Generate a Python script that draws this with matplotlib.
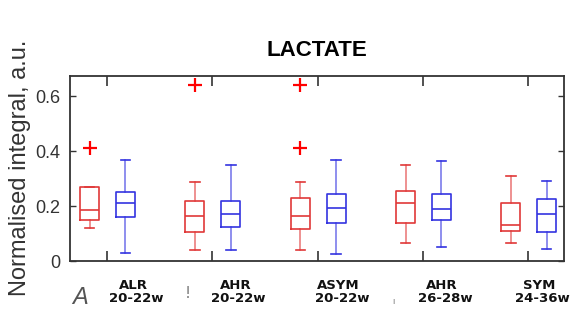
import matplotlib.pyplot as plt
import numpy as np

# group labels shown under the axis
groups = ["ALR\n20-22w", "AHR\n20-22w", "ASYM\n20-22w", "AHR\n26-28w", "SYM\n24-36w"]

# red series: whislo, q1, median, q3, whishi
red_lo = [0.121, 0.039, 0.039, 0.067, 0.067]
red_q1 = [0.149, 0.107, 0.115, 0.139, 0.108]
red_med = [0.185, 0.164, 0.164, 0.212, 0.131]
red_q3 = [0.269, 0.219, 0.228, 0.256, 0.210]
red_hi = [0.269, 0.287, 0.287, 0.349, 0.309]
red_fliers = [[0.41], [0.64], [0.64, 0.41], [], []]

# blue series
blue_lo = [0.028, 0.039, 0.027, 0.051, 0.045]
blue_q1 = [0.159, 0.123, 0.139, 0.148, 0.105]
blue_med = [0.210, 0.170, 0.194, 0.188, 0.171]
blue_q3 = [0.252, 0.217, 0.243, 0.243, 0.227]
blue_hi = [0.367, 0.349, 0.367, 0.364, 0.292]
blue_fliers = [[], [], [], [], []]

yticks = [0, 0.2, 0.4, 0.6]
yticklabels = ["0", "0.2", "0.4", "0.6"]


def make_stats(lo, q1, med, q3, hi, fl):
    return [dict(whislo=a, q1=b, med=c, q3=d, whishi=e, fliers=f)
            for a, b, c, d, e, f in zip(lo, q1, med, q3, hi, fl)]


RED = '#e03838'
BLUE = '#3434e0'
GREY = '#333333'
LIB = ['Liberation Sans', 'DejaVu Sans']

fig = plt.figure(figsize=(5.71, 3.28), dpi=100)
ax = fig.add_axes([70 / 571, 1 - 261 / 328, 494 / 571, 185 / 328])

pos = np.arange(1, len(groups) + 1)
for stats, off, col in [(make_stats(red_lo, red_q1, red_med, red_q3, red_hi, red_fliers), -0.165, RED),
                        (make_stats(blue_lo, blue_q1, blue_med, blue_q3, blue_hi, blue_fliers), 0.175, BLUE)]:
    ax.bxp(stats, positions=pos + off, widths=0.18, showfliers=True,
           boxprops=dict(color=col, lw=1.2),
           medianprops=dict(color=col, lw=1.2),
           whiskerprops=dict(color=col, lw=1.1, alpha=0.7),
           capprops=dict(color=col, lw=1.2),
           flierprops=dict(marker='+', markeredgecolor='red', markersize=10, mew=1.6))

ax.set_xlim(0.648, 5.34)
ax.set_ylim(0, 0.673)
ax.set_xticks(pos)
ax.set_xticklabels([])
ax.set_yticks(yticks)
ax.set_yticklabels(yticklabels, family=LIB, fontsize=13, color=GREY)
ax.tick_params(axis='x', direction='in', length=7, width=1.2, color=GREY, top=True)
ax.tick_params(axis='y', direction='in', length=4, width=1.0, color=GREY, right=True, pad=7)
for s in ax.spines.values():
    s.set_color(GREY)
    s.set_linewidth(1.3)

# group labels under the axis
label_x = [1.25, 2.22, 3.2, 4.18, 5.1]
for lx, g in zip(label_x, groups):
    name, weeks = g.split("\n")
    ax.text(lx, -0.13, name, ha='center', va='center', fontsize=9.5,
            fontweight='bold', transform=ax.get_xaxis_transform(), color='#111111')
    ax.text(lx + 0.03, -0.2, weeks, ha='center', va='center', fontsize=9.5,
            fontweight='bold', transform=ax.get_xaxis_transform(), color='#111111')

# leftover glyphs from the cropped source figure
fig.text(80 / 571, 1 - 297 / 328, "A", ha='center', va='center', fontsize=17,
         color='#555555', family=LIB, style='italic')
fig.text(188 / 571, 1 - 293 / 328, "!", ha='center', va='center', fontsize=11,
         color='#777777')
fig.text(393 / 571, 1 - 301 / 328, "ı", ha='center', va='center', fontsize=6,
         color='#777777')

fig.text(317 / 571, 1 - 50 / 328, "LACTATE", ha='center', va='center', fontsize=16,
         fontweight='bold', family=LIB)
fig.text(20 / 571, 1 - 168 / 328, "Normalised integral, a.u.", rotation=90,
         ha='center', va='center', fontsize=17, color=GREY, family=LIB)

fig.savefig("out.png", dpi=100)
